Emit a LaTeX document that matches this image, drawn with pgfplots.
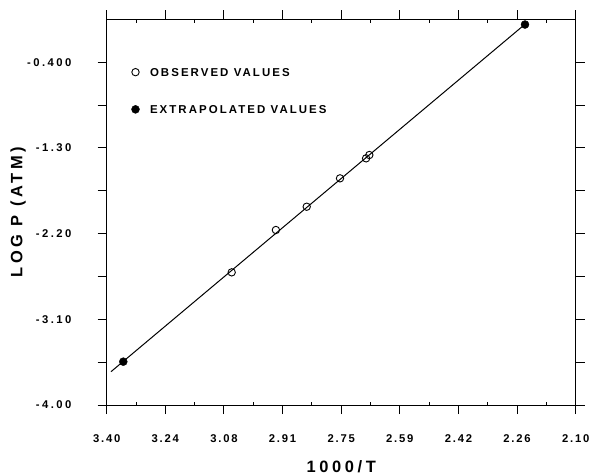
\documentclass[border=0pt]{standalone}
\usepackage{fontspec}
\setmainfont{Liberation Sans}
\newfontfamily\tickf[LetterSpace=16]{Liberation Sans}
\newfontfamily\tickfy[LetterSpace=22]{Liberation Sans}
\newfontfamily\labf[LetterSpace=22]{Liberation Sans}
\newfontfamily\legf[LetterSpace=18]{Liberation Sans}
\usepackage{pgfplots}
\pgfplotsset{compat=1.18}
\pgfplotsset{mylegend/.style={legend image code/.code={\draw[mark repeat=2,mark phase=2,##1] plot coordinates {(0bp,0bp) (7.5bp,0bp) (15bp,0bp)};}}}
\newcommand{\yl}[1]{#1\hspace*{26bp}}
\begin{document}
\begin{tikzpicture}
\begin{axis}[
  scale only axis, width=469bp, height=385.7bp,
  xmin=2.10, xmax=3.40, x dir=reverse,
  ymin=-4.00, ymax=0.05,
  xtick={2.10,2.2625,2.425,2.5875,2.75,2.9125,3.075,3.2375,3.40},
  xticklabels={2.10,2.26,2.42,2.59,2.75,2.91,3.08,3.24,3.40},
  ytick={-4,-3.1,-2.2,-1.3,-0.4},
  yticklabels={\yl{-4.00},\yl{-3.10},\yl{-2.20},\yl{-1.30},\yl{-0.400}},
  extra x ticks={2.18125,2.34375,2.50625,2.66875,2.83125,2.99375,3.15625,3.31875},
  extra x tick labels={},
  extra x tick style={tick align=inside, major tick length=3.5bp},
  extra y ticks={-3.55,-2.65,-1.75,-0.85},
  extra y tick labels={},
  tick align=outside,
  major tick length=9bp,
  tick style={line width=0.9bp, black},
  axis line style={line width=1bp},
  tick label style={font=\tickf\bfseries\fontsize{11.3}{13}\selectfont, inner sep=0pt},
  xticklabel style={anchor=north, yshift=-20bp},
  yticklabel style={anchor=east, font=\tickfy\bfseries\fontsize{11.3}{13}\selectfont},
  xlabel={1000/T},
  ylabel={LOG P (ATM)},
  every axis x label/.style={at={([yshift=-67bp]axis description cs:0.5,0)}, anchor=base,
    font=\labf\bfseries\fontsize{16.5}{20}\selectfont, inner sep=0pt},
  every axis y label/.style={at={([xshift=-84.4bp]axis description cs:0,0.5)}, anchor=base, rotate=90,
    font=\labf\bfseries\fontsize{16.5}{20}\selectfont, inner sep=0pt},
  legend style={at={(axis description cs:0.0529,0.8737)}, anchor=north west, draw=none, fill=none,
    inner sep=0pt, outer sep=0pt, row sep=28.9bp, column sep=10.5bp,
    nodes={inner sep=0pt, text height=8.3bp, text depth=0pt, font=\legf\bfseries\fontsize{11.5}{14}\selectfont}},
  legend cell align=left,
]
\addplot[black, line width=1bp, forget plot] coordinates {(3.388,-3.65) (2.243,-0.01)};
\addplot[black, only marks, mark=o, mark size=3.7bp, mark options={line width=0.9bp}, mylegend]
  coordinates {(3.0535,-2.607) (2.931,-2.1625) (2.8456,-1.918) (2.7533,-1.620) (2.681,-1.410) (2.672,-1.375)};
\addlegendentry{OBSERVED VALUES}
\addplot[black, only marks, mark=*, mark size=4bp, mark options={fill=black}, mylegend]
  coordinates {(3.354,-3.545) (2.2405,-0.005)};
\addlegendentry{EXTRAPOLATED VALUES}
\coordinate (sw) at (axis description cs:0,0);
\coordinate (ne) at (axis description cs:1,1);
\end{axis}
\pgfresetboundingbox
\path[use as bounding box] ([xshift=-106.7bp,yshift=-69bp]sw) rectangle ([xshift=15.3bp,yshift=19.3bp]ne);
\end{tikzpicture}
\end{document}
